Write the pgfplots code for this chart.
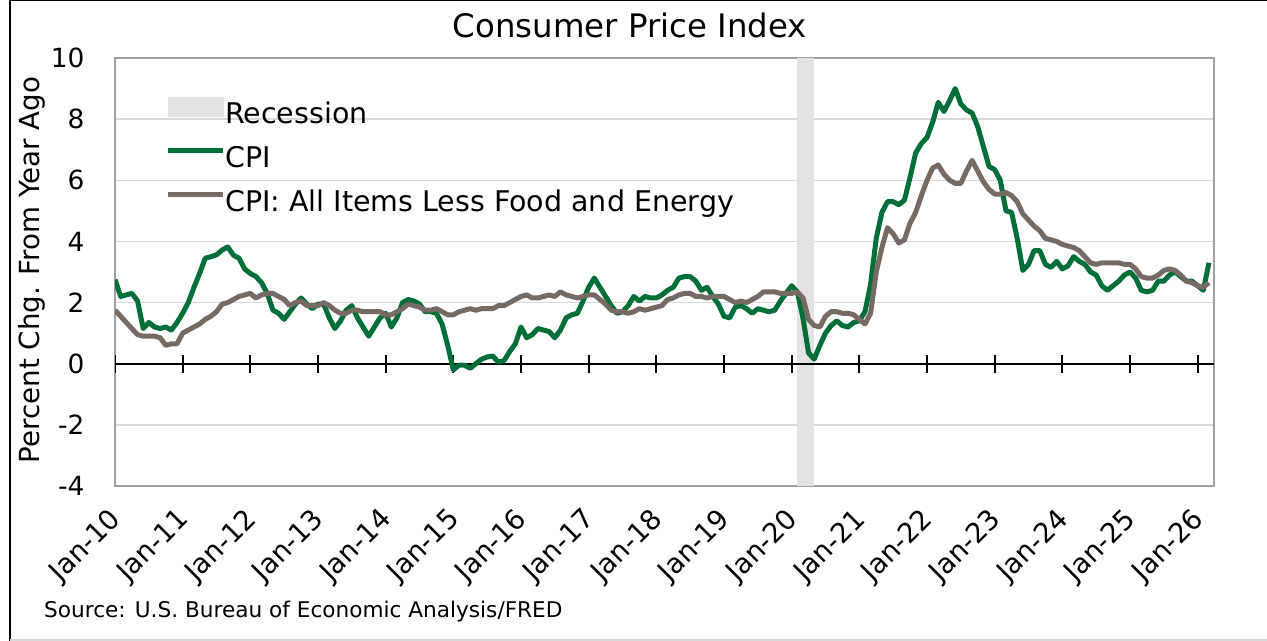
\documentclass[border=0pt]{standalone}
\usepackage{pgfplots}
\pgfplotsset{compat=1.18}
\usepackage{pgfplotstable}
\usepackage{fontspec}
\setmainfont{DejaVu Sans}
\definecolor{cpigreen}{RGB}{0,110,55}
\definecolor{coregray}{RGB}{118,106,98}
\definecolor{recgray}{RGB}{226,226,226}
\definecolor{gridgray}{RGB}{217,217,217}
\definecolor{framegray}{RGB}{160,160,160}
\pgfplotstableread{
idx cpi core
0 2.75 1.75
1 2.2 1.55
2 2.25 1.35
3 2.3 1.15
4 2.05 0.95
5 1.15 0.9
6 1.35 0.9
7 1.2 0.9
8 1.15 0.85
9 1.2 0.6
10 1.1 0.65
11 1.35 0.65
12 1.65 1.0
13 2.0 1.1
14 2.5 1.2
15 2.95 1.3
16 3.45 1.45
17 3.5 1.55
18 3.56 1.7
19 3.72 1.95
20 3.82 2.0
21 3.55 2.1
22 3.45 2.2
23 3.1 2.25
24 2.95 2.3
25 2.85 2.15
26 2.65 2.25
27 2.3 2.3
28 1.75 2.3
29 1.65 2.2
30 1.45 2.1
31 1.7 1.9
32 1.95 2.0
33 2.15 2.05
34 1.95 1.9
35 1.8 1.9
36 1.95 1.9
37 1.95 2.0
38 1.5 1.9
39 1.15 1.75
40 1.4 1.65
41 1.75 1.65
42 1.9 1.75
43 1.5 1.75
44 1.2 1.7
45 0.9 1.7
46 1.2 1.7
47 1.5 1.7
48 1.65 1.6
49 1.2 1.6
50 1.5 1.7
51 2.0 1.8
52 2.1 1.95
53 2.05 1.9
54 1.95 1.85
55 1.7 1.75
56 1.7 1.75
57 1.65 1.8
58 1.3 1.7
59 0.6 1.6
60 -0.2 1.6
61 -0.05 1.7
62 -0.05 1.75
63 -0.15 1.8
64 0.0 1.75
65 0.15 1.8
66 0.22 1.8
67 0.25 1.8
68 0.05 1.9
69 0.1 1.9
70 0.4 2.0
71 0.65 2.1
72 1.2 2.2
73 0.85 2.25
74 0.95 2.15
75 1.15 2.15
76 1.1 2.2
77 1.05 2.25
78 0.85 2.2
79 1.1 2.35
80 1.5 2.25
81 1.6 2.2
82 1.65 2.15
83 2.05 2.2
84 2.5 2.25
85 2.8 2.25
86 2.5 2.1
87 2.2 1.95
88 1.9 1.75
89 1.65 1.7
90 1.7 1.7
91 1.9 1.65
92 2.2 1.7
93 2.05 1.8
94 2.2 1.75
95 2.15 1.8
96 2.15 1.85
97 2.25 1.9
98 2.4 2.1
99 2.5 2.15
100 2.8 2.25
101 2.85 2.3
102 2.85 2.3
103 2.7 2.2
104 2.4 2.2
105 2.5 2.15
106 2.2 2.2
107 1.95 2.2
108 1.55 2.2
109 1.5 2.1
110 1.85 2.0
111 1.9 2.05
112 1.8 2.0
113 1.65 2.1
114 1.8 2.2
115 1.75 2.35
116 1.7 2.35
117 1.75 2.35
118 2.05 2.3
119 2.3 2.3
120 2.55 2.3
121 2.35 2.35
122 1.5 2.15
123 0.35 1.45
124 0.15 1.25
125 0.6 1.2
126 1.0 1.55
127 1.25 1.7
128 1.4 1.7
129 1.25 1.65
130 1.2 1.65
131 1.35 1.6
132 1.4 1.45
133 1.7 1.3
134 2.6 1.65
135 4.1 3.0
136 4.95 3.8
137 5.3 4.45
138 5.3 4.25
139 5.2 3.95
140 5.35 4.05
141 6.1 4.6
142 6.9 4.95
143 7.2 5.5
144 7.4 6.0
145 7.9 6.4
146 8.55 6.5
147 8.25 6.2
148 8.6 6.0
149 9.0 5.9
150 8.5 5.9
151 8.3 6.3
152 8.2 6.65
153 7.75 6.3
154 7.1 5.95
155 6.45 5.7
156 6.35 5.55
157 6.0 5.55
158 5.0 5.6
159 4.95 5.5
160 4.1 5.3
161 3.05 4.9
162 3.25 4.7
163 3.7 4.5
164 3.7 4.35
165 3.25 4.1
166 3.15 4.05
167 3.35 4.0
168 3.1 3.9
169 3.2 3.85
170 3.5 3.8
171 3.35 3.7
172 3.25 3.5
173 3.0 3.3
174 2.9 3.25
175 2.55 3.3
176 2.4 3.3
177 2.55 3.3
178 2.7 3.3
179 2.9 3.25
180 3.0 3.25
181 2.8 3.1
182 2.4 2.85
183 2.35 2.8
184 2.4 2.8
185 2.7 2.9
186 2.7 3.05
187 2.9 3.1
188 3.0 3.05
189 2.85 2.9
190 2.7 2.7
191 2.7 2.65
192 2.55 2.55
193 2.4 2.5
194 3.3 2.65
}\cpidata
\begin{document}
\begin{tikzpicture}[x=1bp,y=1bp]
\useasboundingbox (0,0) rectangle (1267,641);
\draw[black, line width=1.5bp] (10,0) -- (10,640.25) -- (1267,640.25);
\draw[gridgray, line width=1.5bp] (10,0.75) -- (1267,0.75);
\begin{axis}[
  at={(115bp,155bp)}, anchor=south west,
  width=1099bp, height=428bp, scale only axis,
  xmin=0, xmax=194.9, ymin=-4, ymax=10,
  ytick={-4,-2,0,2,4,6,8,10},
  yticklabels={-4,-2,0,2,4,6,8,10},
  xtick={0,12,...,192},
  xticklabels={Jan-10,Jan-11,Jan-12,Jan-13,Jan-14,Jan-15,Jan-16,Jan-17,Jan-18,Jan-19,Jan-20,Jan-21,Jan-22,Jan-23,Jan-24,Jan-25,Jan-26},
  major tick length=0,
  axis line style={draw=framegray, line width=1.5bp},
  ymajorgrids, grid style={gridgray, line width=1.5bp},
  yticklabel style={font=\fontsize{26.5}{30}\selectfont, anchor=east, xshift=-27bp},
  xticklabel style={font=\fontsize{27.5}{30}\selectfont, rotate=45, anchor=north east, yshift=-6bp, xshift=-16bp},
  title={Consumer Price Index},
  title style={font=\fontsize{32.5}{38}\selectfont, at={(axis description cs:0.4685,1.062)}, anchor=center},
  ylabel={Percent Chg. From Year Ago},
  every axis y label/.style={at={(axis description cs:-0.0755,0.505)}, rotate=90, anchor=center, font=\fontsize{27.8}{30}\selectfont},
  legend style={at={(axis description cs:0.0455,0.9085)}, anchor=north west, draw=none, fill=none,
    font=\fontsize{28.6}{30}\selectfont, row sep=17bp, inner sep=0pt,
    nodes={inner sep=0pt, text height=21bp, text depth=6bp},
    /tikz/every even column/.append style={column sep=6bp}},
  legend cell align=left,
  clip=true,
]
\addplot[draw=none, fill=recgray, forget plot] coordinates {(121,-4) (121,10) (124,10) (124,-4)} -- cycle;
\draw[black, line width=2.2bp] (axis cs:0,0) -- (axis cs:194.9,0);
\pgfplotsinvokeforeach{0,12,...,192}{\draw[black, line width=2bp] (axis cs:#1,-0.3) -- (axis cs:#1,0.3);}
\addlegendimage{legend image code/.code={\fill[recgray] (0bp,-1bp) rectangle (55bp,18bp);}}
\addlegendentry{Recession}
\addplot[cpigreen, line width=5bp, line join=round, legend image code/.code={\draw[cpigreen, line width=5bp] (0bp,9bp) -- (55bp,9bp);}] table[x=idx, y=cpi] {\cpidata};
\addlegendentry{CPI}
\addplot[coregray, line width=5bp, line join=round, legend image code/.code={\draw[coregray, line width=5bp] (0bp,9bp) -- (55bp,9bp);}] table[x=idx, y=core] {\cpidata};
\addlegendentry{CPI: All Items Less Food and Energy}
\end{axis}
\node[anchor=base west, font=\fontsize{21.7}{25}\selectfont, inner sep=0pt] at (44,23) {Source: U.S. Bureau of Economic Analysis/FRED};
\end{tikzpicture}
\end{document}
